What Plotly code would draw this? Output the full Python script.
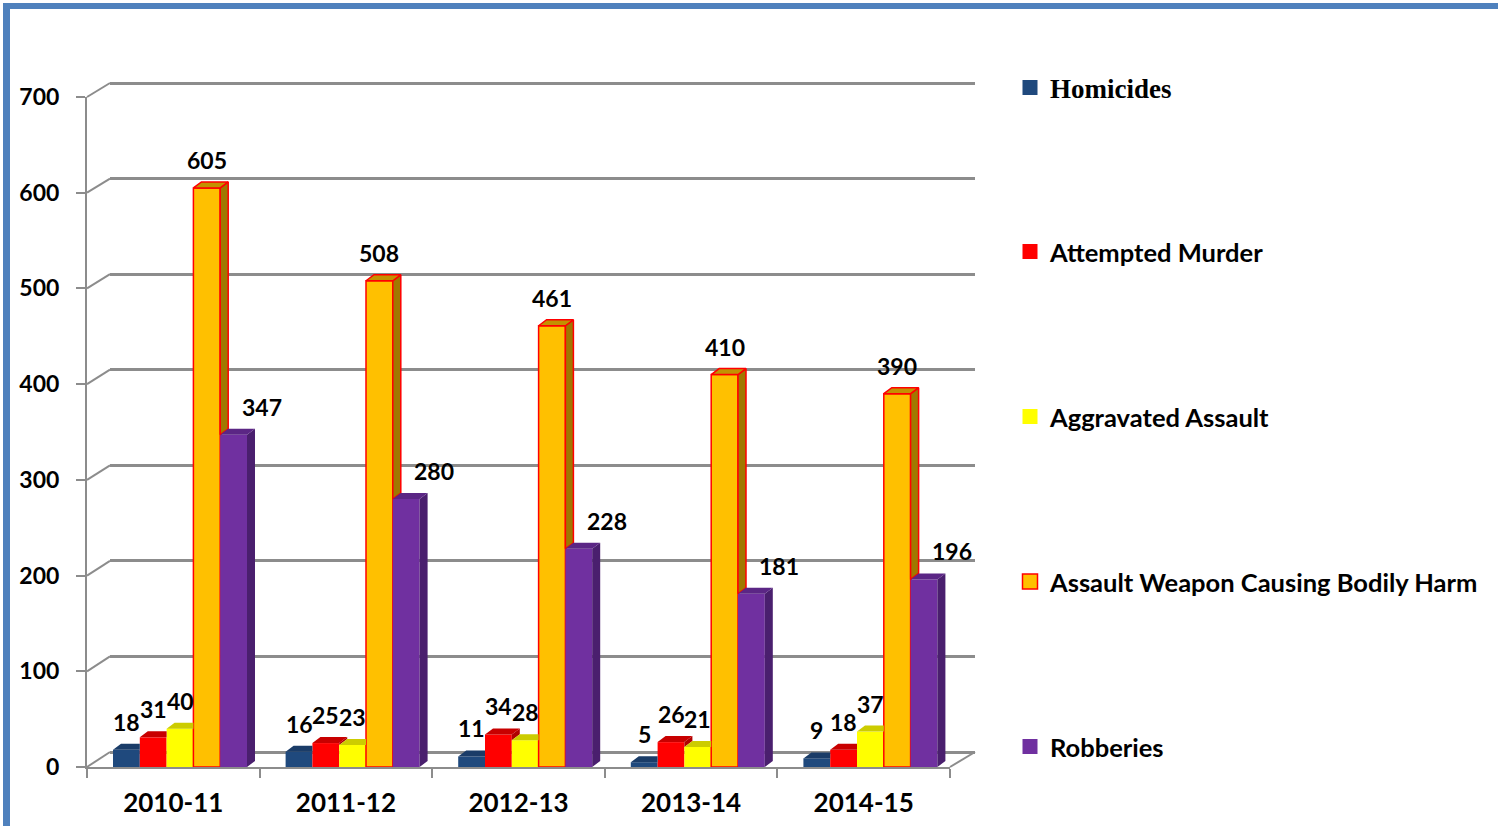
import plotly.graph_objects as go

# ---------------- data ----------------
categories = ["2010-11", "2011-12", "2012-13", "2013-14", "2014-15"]
series_names = ["Homicides", "Attempted Murder", "Aggravated Assault",
                "Assault Weapon Causing Bodily Harm", "Robberies"]
homicides = [18, 16, 11, 5, 9]
attempted_murder = [31, 25, 34, 26, 18]
aggravated_assault = [40, 23, 28, 21, 37]
assault_weapon = [605, 508, 461, 410, 390]
robberies = [347, 280, 228, 181, 196]
y_ticks = [0, 100, 200, 300, 400, 500, 600, 700]

series_values = [homicides, attempted_murder, aggravated_assault, assault_weapon, robberies]

# ---------------- styles ----------------
front_colors = ["#1F497D", "#FF0000", "#FFFF00", "#FFC000", "#7030A0"]
top_colors = ["#1A3C68", "#C80000", "#CCCC00", "#C39200", "#5B2685"]
side_colors = ["#15325A", "#B00000", "#B5B500", "#A07800", "#4A1F6E"]
outline = [None, None, None, "#FF0000", None]
label_xshift = [0, 0, 0, 0, 28]

W, H = 1498, 826
# front (bar) plane pixels
XF0, XF1, YF0, YF1 = 87, 950, 767, 97
# back wall plane pixels
XB0, XB1, YB0, YB1 = 110, 975, 752, 83
YMAX = 700
YMAX_BACK = 710  # a little headroom so the top grid line is drawn

px = lambda p: p / W
py = lambda p: 1 - p / H

n_cat = len(categories)
units_per_px_x = n_cat / (XF1 - XF0)
units_per_px_y = YMAX / (YF0 - YF1)
BAR_W = 26.8 * units_per_px_x
START = -0.5 + 26 * units_per_px_x
DX = 8 * units_per_px_x
DY = 6 * units_per_px_y

back_top_px = YB0 - (YB0 - YB1) * YMAX_BACK / YMAX

GRID = "#8C8C8C"
FONT = "Lato"

fig = go.Figure()

# invisible trace to hold the back-wall grid subplot
fig.add_trace(go.Scatter(x=[0], y=[0], mode="markers", marker=dict(opacity=0),
                         showlegend=False, hoverinfo="skip", xaxis="x", yaxis="y"))

legend_ids = ["legend", "legend2", "legend3", "legend4", "legend5"]

# front faces
for j, (name, vals) in enumerate(zip(series_names, series_values)):
    xs = [i + START + j * BAR_W + BAR_W / 2 for i in range(n_cat)]
    fig.add_trace(go.Bar(
        x=xs, y=vals, width=BAR_W, name=name,
        marker=dict(color=front_colors[j],
                    line=dict(color=outline[j] or front_colors[j],
                              width=1.5 if outline[j] else 0)),
        xaxis="x2", yaxis="y2", showlegend=False,
    ))
    # legend swatch (bigger square like the original)
    fig.add_trace(go.Scatter(
        x=[None], y=[None], mode="markers", name=name,
        marker=dict(symbol="square", size=15, color=front_colors[j],
                    line=dict(color=outline[j] or front_colors[j], width=1.5 if outline[j] else 0)),
        xaxis="x2", yaxis="y2", legend=legend_ids[j], showlegend=True,
    ))

# 3D top and side faces
for j, vals in enumerate(series_values):
    tx, ty, sx, sy = [], [], [], []
    for i, v in enumerate(vals):
        xl = i + START + j * BAR_W
        xr = xl + BAR_W
        nxt = series_values[j + 1][i] if j + 1 < len(series_values) else 0
        if nxt > v:
            poly = [(xl, v), (xr, v), (xr, v + DY), (xl + DX, v + DY), (xl, v)]
        else:
            poly = [(xl, v), (xr, v), (xr + DX, v + DY), (xl + DX, v + DY), (xl, v)]
        tx += [p[0] for p in poly] + [None]
        ty += [p[1] for p in poly] + [None]
        if v > nxt:
            poly = [(xr, nxt), (xr + DX, nxt + DY), (xr + DX, v + DY), (xr, v), (xr, nxt)]
            sx += [p[0] for p in poly] + [None]
            sy += [p[1] for p in poly] + [None]
    for xx, yy, col in ((sx, sy, side_colors[j]), (tx, ty, top_colors[j])):
        if not xx:
            continue
        if outline[j]:
            fig.add_trace(go.Scatter(x=xx, y=yy, fill="toself", fillcolor=col, mode="lines",
                                     line=dict(color=outline[j], width=1.5),
                                     showlegend=False, hoverinfo="skip", xaxis="x2", yaxis="y2"))
        else:
            fig.add_trace(go.Scatter(x=xx, y=yy, fill="toself", fillcolor=col, mode="none",
                                     showlegend=False, hoverinfo="skip", xaxis="x2", yaxis="y2"))

# data labels
annotations = []
for j, vals in enumerate(series_values):
    for i, v in enumerate(vals):
        annotations.append(dict(
            x=i + START + j * BAR_W + BAR_W / 2, y=v, xref="x2", yref="y2",
            text=str(v), showarrow=False, yanchor="bottom", xanchor="center",
            yshift=12, xshift=label_xshift[j],
            font=dict(family=FONT, size=23, color="black", weight="bold"),
        ))

# wall / floor edges
shapes = []
for v in y_ticks:
    yf = YF0 + (YF1 - YF0) * v / YMAX
    yb = YB0 + (YB1 - YB0) * v / YMAX
    shapes.append(dict(type="line", xref="paper", yref="paper",
                       x0=px(XF0), y0=py(yf), x1=px(XB0), y1=py(yb),
                       line=dict(color=GRID, width=2), layer="below"))
shapes.append(dict(type="line", xref="paper", yref="paper",
                   x0=px(XF1), y0=py(YF0), x1=px(XB1), y1=py(YB0),
                   line=dict(color=GRID, width=2), layer="below"))
shapes.append(dict(type="line", xref="paper", yref="paper",
                   x0=px(XF0), y0=py(YF0), x1=px(XF0), y1=py(YF0 + 9),
                   line=dict(color=GRID, width=2), layer="below"))
# page frame
shapes.append(dict(type="rect", xref="paper", yref="paper",
                   x0=px(3), x1=px(10), y0=0, y1=py(3),
                   fillcolor="#4F81BD", line=dict(width=0)))
shapes.append(dict(type="rect", xref="paper", yref="paper",
                   x0=px(3), x1=1, y0=py(9), y1=py(3),
                   fillcolor="#4F81BD", line=dict(width=0)))

legend_y = [88, 252, 417, 582, 747]
legend_layout = {}
for k, lid in enumerate(legend_ids):
    fam = "Liberation Serif" if k == 0 else FONT
    size = 27 if k == 0 else 25.5
    legend_layout[lid] = dict(
        x=px(1010), y=py(legend_y[k]), xanchor="left", yanchor="middle",
        bgcolor="rgba(0,0,0,0)", borderwidth=0, itemsizing="trace",
        font=dict(family=fam, size=size, color="black", weight="bold"),
    )

fig.update_layout(
    width=W, height=H, autosize=False,
    margin=dict(l=0, r=0, t=0, b=0, autoexpand=False),
    paper_bgcolor="white", plot_bgcolor="rgba(0,0,0,0)",
    barmode="overlay",
    showlegend=True,
    # back wall grid
    xaxis=dict(domain=[px(XB0), px(XB1)], range=[0, 1], visible=False, fixedrange=True),
    yaxis=dict(domain=[py(YB0), py(back_top_px)], range=[0, YMAX_BACK], tickvals=y_ticks,
               showticklabels=False, showgrid=True, gridcolor=GRID, gridwidth=2.5,
               zeroline=True, zerolinecolor=GRID, zerolinewidth=2.5,
               showline=False, ticks="", anchor="x"),
    # front bar plane
    xaxis2=dict(domain=[px(XF0), px(XF1)], range=[-0.5, n_cat - 0.5],
                tickvals=list(range(n_cat)), ticktext=categories,
                ticks="", showgrid=False, zeroline=False,
                showline=True, linecolor=GRID, linewidth=2,
                minor=dict(tickvals=[i + 0.5 for i in range(-1, n_cat)], ticks="outside",
                           ticklen=9, tickcolor=GRID, tickwidth=2, showgrid=False),
                tickfont=dict(family=FONT, size=26, color="black", weight="bold"),
                ticklabelstandoff=12, anchor="y2"),
    yaxis2=dict(domain=[py(YF0), py(YF1)], range=[0, YMAX], tickvals=y_ticks,
                showgrid=False, zeroline=False, showline=True, linecolor=GRID, linewidth=2,
                ticks="outside", ticklen=9, tickcolor=GRID, tickwidth=2,
                tickfont=dict(family=FONT, size=23, color="black", weight="bold"),
                ticklabelstandoff=12, anchor="x2"),
    annotations=annotations,
    shapes=shapes,
    **legend_layout,
)

fig.write_html("out.html", config={"displayModeBar": False},
               post_script="document.body.style.margin='0';")
